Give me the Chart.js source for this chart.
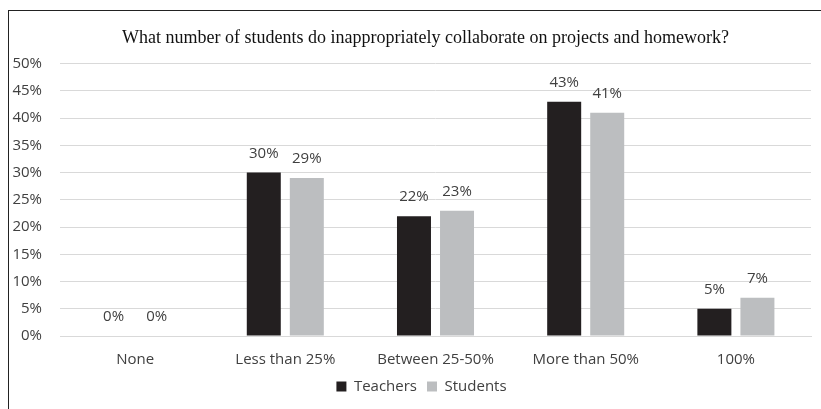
<!DOCTYPE html>
<html>
<head>
<meta charset="utf-8">
<script src="https://cdn.jsdelivr.net/npm/chart.js@4/dist/chart.umd.min.js"></script>
<style>
  html, body { margin: 0; padding: 0; background: #fff; overflow: hidden; }
  #wrap { position: relative; width: 821px; height: 409px; }
  #frame {
    position: absolute; left: 8px; top: 10px; width: 900px; height: 500px;
    border-left: 1px solid #222; border-top: 1px solid #222; pointer-events: none;
  }
</style>
</head>
<body>
<div id="wrap">
  <canvas id="chart" width="821" height="409"></canvas>
  <div id="frame"></div>
</div>
<script>
const CATEGORIES = ['None', 'Less than 25%', 'Between 25-50%', 'More than 50%', '100%'];
const TEACHERS = [0, 30, 22, 43, 5];
const STUDENTS = [0, 29, 23, 41, 7];
const TITLE = 'What number of students do inappropriately collaborate on projects and homework?';

const LABEL_FONT = '"Open Sans", Lato, sans-serif';

// percentage labels above each bar
const barLabels = {
  id: 'barLabels',
  afterDatasetsDraw(chart) {
    const ctx = chart.ctx;
    ctx.save();
    ctx.font = '15px ' + LABEL_FONT;
    ctx.fillStyle = '#404040';
    ctx.textAlign = 'center';
    ctx.textBaseline = 'middle';
    chart.data.datasets.forEach((ds, i) => {
      chart.getDatasetMeta(i).data.forEach((bar, j) => {
        ctx.fillText(ds.data[j] + '%', bar.x, bar.y - 19);
      });
    });
    ctx.restore();
  },
};

// title and legend in the original are centred a bit right of the canvas middle
const shiftBoxes = {
  id: 'shiftBoxes',
  afterLayout(chart) {
    chart.titleBlock.left += 20;
    chart.titleBlock.right += 20;
    chart.legend.left += 16;
    chart.legend.right += 16;
  },
};

new Chart(document.getElementById('chart'), {
  type: 'bar',
  data: {
    labels: CATEGORIES,
    datasets: [
      { label: 'Teachers', data: TEACHERS, backgroundColor: '#231f20' },
      { label: 'Students', data: STUDENTS, backgroundColor: '#bcbec0' },
    ],
  },
  options: {
    responsive: false,
    animation: false,
    categoryPercentage: 0.573,
    barPercentage: 0.79,
    layout: { padding: { left: 0, right: 10, top: 27, bottom: 5 } },
    plugins: {
      title: {
        display: true,
        text: TITLE,
        color: '#111',
        font: { family: '"Liberation Serif", "Times New Roman", serif', size: 18, weight: 'normal' },
        padding: { top: 0, bottom: 15 },
      },
      legend: {
        position: 'bottom',
        labels: {
          boxWidth: 10,
          boxHeight: 10,
          color: '#404040',
          padding: 10,
          font: { family: LABEL_FONT, size: 15 },
        },
      },
      tooltip: { enabled: false },
    },
    scales: {
      x: {
        afterFit: (s) => { s.height = 33; },
        grid: { display: false, drawTicks: false },
        border: { display: true, color: '#d9d9d9' },
        ticks: { color: '#404040', padding: 15, font: { family: LABEL_FONT, size: 15 } },
      },
      y: {
        min: 0,
        max: 50,
        afterFit: (s) => { s.width = 60; },
        grid: { color: '#d9d9d9', drawTicks: false },
        border: { display: false },
        ticks: {
          stepSize: 5,
          padding: 18,
          color: '#404040',
          font: { family: LABEL_FONT, size: 15 },
          callback: (v) => v + '%',
        },
      },
    },
  },
  plugins: [barLabels, shiftBoxes],
});
</script>
</body>
</html>
